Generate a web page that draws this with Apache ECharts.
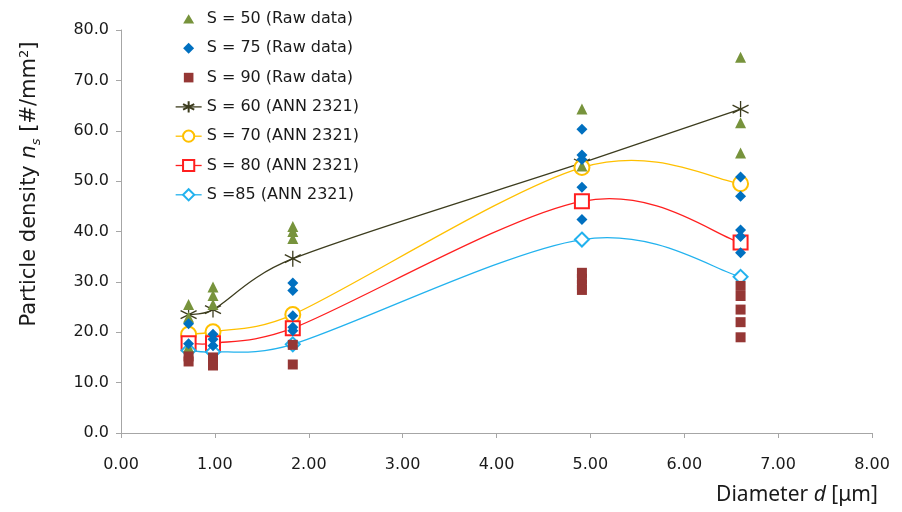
<!DOCTYPE html>
<html>
<head>
<meta charset="utf-8">
<script src="https://cdn.jsdelivr.net/npm/echarts@6/dist/echarts.min.js"></script>
<style>
  html, body { margin: 0; padding: 0; background: #fff; }
  #chart { width: 902px; height: 512px; }
</style>
</head>
<body>
<div id="chart"></div>
<script>
// Measured particle densities at each particle diameter (µm)
const diameters = [0.72, 0.98, 1.83, 4.91, 6.60];

// Raw data: one list of repeated measurements per diameter
const rawS50 = [[25.5, 23.0, 17.0], [29.0, 27.3, 25.5], [41.0, 40.0, 38.6], [64.3, 53.0], [74.6, 61.6, 55.6]];
const rawS75 = [[21.7, 17.7], [19.6, 18.6, 17.3], [29.8, 28.3, 23.3, 21.0, 20.3], [60.3, 55.2, 54.3, 48.8, 42.4], [50.8, 47.0, 40.3, 39.0, 35.8]];
const rawS90 = [[15.2, 14.2], [15.0, 14.0, 13.4], [17.5, 13.6], [31.8, 30.6, 29.4, 28.4], [29.2, 27.2, 24.5, 22.0, 19.0]];

// ANN 2321 model predictions, one value per diameter
const annS60 = [23.5, 24.5, 34.6, 53.6, 64.3];
const annS70 = [19.6, 20.1, 23.5, 52.7, 49.5];
const annS80 = [17.8, 17.8, 20.8, 46.0, 37.8];
const annS85 = [16.4, 16.1, 17.6, 38.4, 31.0];

const xTicks = [0, 1, 2, 3, 4, 5, 6, 7, 8];
const yTicks = [0, 10, 20, 30, 40, 50, 60, 70, 80];

const names = {
  s50: 'S = 50 (Raw data)',
  s75: 'S = 75 (Raw data)',
  s90: 'S = 90 (Raw data)',
  a60: 'S = 60 (ANN 2321)',
  a70: 'S = 70 (ANN 2321)',
  a80: 'S = 80 (ANN 2321)',
  a85: 'S =85 (ANN 2321)'
};

const colors = {
  s50: '#77933c', s75: '#0070c0', s90: '#953735',
  a60: '#3c3c1e', a70: '#ffc000', a80: '#ff1f1f', a85: '#22b2ee'
};

function rawPoints(groups) {
  const pts = [];
  groups.forEach((vals, i) => vals.forEach(v => pts.push([diameters[i], v])));
  return pts;
}
function linePoints(vals) {
  return vals.map((v, i) => [diameters[i], v]);
}

const FONT = 'DejaVu Sans';
const starPath = 'path://M0,-10L0,10M-8.66,-5L8.66,5M-8.66,5L8.66,-5';

// Legend icons for the raw-data series: a small symbol centred in the 26x14 icon box
const iconTri = 'path://M0,0M26,14M13,2.2L18.5,11.6L7.5,11.6Z';
const iconDia = 'path://M0,0M26,14M13,1.5L18.5,7L13,12.5L7.5,7Z';
const iconSq = 'path://M0,0M26,14M8.2,2.2L17.8,2.2L17.8,11.8L8.2,11.8Z';

// Control handle for a curve segment: tangent along (next - prev) / 6,
// limited to half of the segment it belongs to so short segments stay flat.
function handle(prev, next, segLen) {
  let hx = (next[0] - prev[0]) / 6;
  let hy = (next[1] - prev[1]) / 6;
  const len = Math.hypot(hx, hy);
  const maxLen = segLen * 0.5;
  if (len > maxLen && len > 0) {
    hx *= maxLen / len;
    hy *= maxLen / len;
  }
  return [hx, hy];
}

// Smooth curve through the ANN predictions: each data item draws the cubic
// segment to the next point.
function curveSeries(key, vals) {
  return {
    name: names[key] + ' curve',
    type: 'custom',
    data: linePoints(vals),
    z: 1,
    silent: true,
    renderItem: function (params, api) {
      const i = params.dataIndexInside;
      const n = params.dataInsideLength;
      if (i >= n - 1) return null;
      const P = j => {
        const k = Math.max(0, Math.min(n - 1, j));
        return api.coord([api.value(0, k), api.value(1, k)]);
      };
      const p0 = P(i - 1), p1 = P(i), p2 = P(i + 1), p3 = P(i + 2);
      const seg = Math.hypot(p2[0] - p1[0], p2[1] - p1[1]);
      const h1 = handle(p0, p2, seg);
      const h2 = handle(p1, p3, seg);
      return {
        type: 'bezierCurve',
        shape: {
          x1: p1[0], y1: p1[1],
          x2: p2[0], y2: p2[1],
          cpx1: p1[0] + h1[0], cpy1: p1[1] + h1[1],
          cpx2: p2[0] - h2[0], cpy2: p2[1] - h2[1]
        },
        style: { stroke: colors[key], lineWidth: 1.3, fill: null }
      };
    }
  };
}

// Markers of the ANN predictions (the line itself is drawn by curveSeries)
function markerSeries(key, vals, symbol, size) {
  const c = colors[key];
  return {
    name: names[key],
    type: 'line',
    data: linePoints(vals),
    symbol: symbol,
    symbolSize: size,
    showAllSymbol: true,
    z: 2,
    lineStyle: { color: c, width: 1.3, opacity: 0 },
    itemStyle: { color: c, borderColor: c, borderWidth: 1.3 },
    emphasis: { disabled: true }
  };
}

function rawSeries(key, groups, symbol, size) {
  return {
    name: names[key],
    type: 'scatter',
    data: rawPoints(groups),
    symbol: symbol,
    symbolSize: size,
    z: 3,
    itemStyle: { color: colors[key], opacity: 1 },
    emphasis: { disabled: true }
  };
}

function legendLine(key) {
  return { name: names[key], lineStyle: { color: colors[key], width: 1.3, opacity: 1 } };
}

const chart = echarts.init(document.getElementById('chart'), null, { renderer: 'canvas' });

chart.setOption({
  animation: false,
  backgroundColor: '#fff',
  grid: { left: 121, right: 30, top: 30, bottom: 79, containLabel: false },
  legend: {
    orient: 'vertical',
    left: 170,
    top: 6,
    itemWidth: 26,
    itemHeight: 14,
    itemGap: 13.3,
    textStyle: { fontFamily: FONT, fontSize: 16, color: '#1a1a1a' },
    data: [
      { name: names.s50, icon: iconTri },
      { name: names.s75, icon: iconDia },
      { name: names.s90, icon: iconSq },
      legendLine('a60'), legendLine('a70'), legendLine('a80'), legendLine('a85')
    ]
  },
  xAxis: {
    type: 'value',
    min: xTicks[0],
    max: xTicks[xTicks.length - 1],
    interval: 1,
    splitLine: { show: false },
    axisLine: { onZero: false, lineStyle: { color: '#a6a6a6', width: 1 } },
    axisTick: { show: true, inside: false, length: 5, lineStyle: { color: '#a6a6a6' } },
    axisLabel: {
      margin: 24,
      fontFamily: FONT, fontSize: 16, color: '#1a1a1a',
      formatter: v => v.toFixed(2)
    }
  },
  yAxis: {
    type: 'value',
    min: yTicks[0],
    max: yTicks[yTicks.length - 1],
    interval: 10,
    splitLine: { show: false },
    axisLine: { show: true, onZero: false, lineStyle: { color: '#a6a6a6', width: 1 } },
    axisTick: { show: true, inside: false, length: 5, lineStyle: { color: '#a6a6a6' } },
    axisLabel: {
      margin: 12,
      fontFamily: FONT, fontSize: 16, color: '#1a1a1a',
      formatter: v => v.toFixed(1)
    }
  },
  graphic: [
    {
      type: 'text',
      x: 30, y: 184,
      rotation: Math.PI / 2,
      style: {
        text: 'Particle density {i|n}{sub|s} [#/mm{sup|2}]',
        font: '21px "DejaVu Sans"',
        fill: '#1a1a1a',
        align: 'center',
        verticalAlign: 'middle',
        rich: {
          i: { fontStyle: 'italic', fontFamily: 'DejaVu Sans', fontSize: 21, lineHeight: 28, verticalAlign: 'middle' },
          sub: { fontStyle: 'italic', fontFamily: 'DejaVu Sans', fontSize: 13, lineHeight: 28, verticalAlign: 'bottom', padding: [0, 0, 1, 0] },
          sup: { fontFamily: 'DejaVu Sans', fontSize: 13, lineHeight: 28, verticalAlign: 'top', padding: [2, 0, 0, 0] }
        }
      }
    },
    {
      type: 'text',
      x: 797, y: 495,
      style: {
        text: 'Diameter {i|d} [\u03bcm]',
        font: '21px "Noto Sans"',
        fill: '#1a1a1a',
        align: 'center',
        verticalAlign: 'middle',
        rich: {
          i: { fontStyle: 'italic', fontFamily: 'Noto Sans', fontSize: 21 }
        }
      }
    }
  ],
  series: [
    curveSeries('a60', annS60),
    curveSeries('a70', annS70),
    curveSeries('a80', annS80),
    curveSeries('a85', annS85),
    markerSeries('a60', annS60, starPath, 16),
    markerSeries('a70', annS70, 'emptyCircle', 15),
    markerSeries('a80', annS80, 'emptyRect', 14),
    markerSeries('a85', annS85, 'emptyDiamond', 14),
    rawSeries('s50', rawS50, 'triangle', 11),
    rawSeries('s75', rawS75, 'diamond', 11),
    rawSeries('s90', rawS90, 'rect', 10)
  ]
});
</script>
</body>
</html>
